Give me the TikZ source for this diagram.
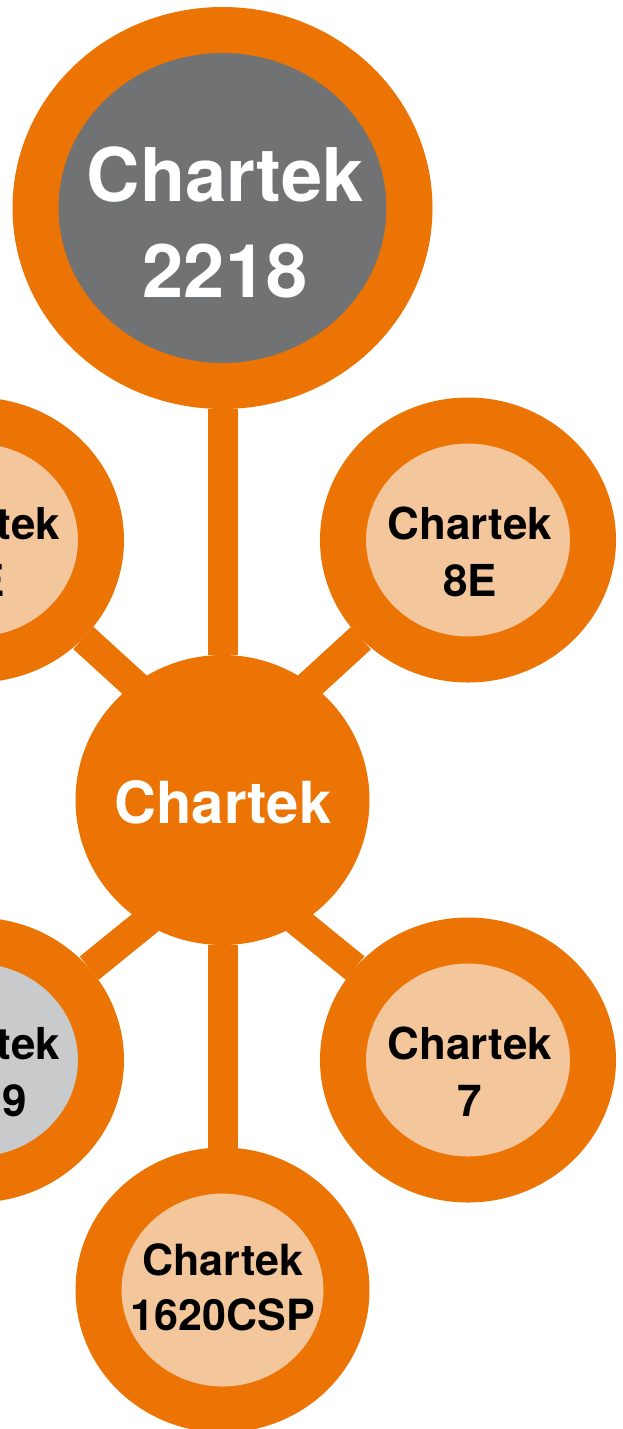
\documentclass[tikz,border=0pt]{standalone}
\usepackage{fontspec}
\setmainfont{TeX Gyre Heros}
\usetikzlibrary{shapes.geometric,backgrounds}
\definecolor{chorange}{RGB}{235,116,5}
\definecolor{chdark}{RGB}{113,114,116}
\definecolor{chpeach}{RGB}{244,198,155}
\definecolor{chlight}{RGB}{201,202,204}
\begin{document}
\begin{tikzpicture}[x=1pt,y=-1pt,
    ring/.style={ellipse,draw=chorange,line width=46pt,inner sep=0pt},
    sat/.style={ring,minimum width=250pt,minimum height=239pt,fill=chpeach},
    link/.style={draw=chorange,line width=30pt},
    lbl/.style={align=center,inner sep=0pt,font=\bfseries\fontsize{44}{57}\selectfont}]
  \useasboundingbox (0,0) rectangle (623,1429);
  % the rings
  \node[ring,minimum width=374pt,minimum height=356pt,fill=chdark] (top) at (222.5,208) {};
  \node[ellipse,fill=chorange,minimum width=294pt,minimum height=290pt] (hub) at (222.5,800) {};
  \node[sat] (r1) at (468,540) {};
  \node[sat] (r2) at (468,1060) {};
  \node[sat] (l1) at (-24,540) {};
  \node[sat,fill=chlight] (l2) at (-24,1060) {};
  \node[sat,minimum width=248pt,minimum height=239pt] (bot) at (222.5,1290) {};
  \coordinate (hubup) at (222.5,765);
  \coordinate (hubdn) at (222.5,860);
  % spokes behind
  \begin{scope}[on background layer]
    \draw[link] (top) -- (hub);
    \draw[link] (hub) -- (bot);
    \draw[link] (hubup) -- (r1);
    \draw[link] (hubup) -- (l1);
    \draw[link] (hubdn) -- (r2);
    \draw[link] (hubdn) -- (l2);
  \end{scope}
  % names
  \node[lbl,text=white,font=\bfseries\fontsize{74}{96}\selectfont] (topname) at (225,222) {Chartek\\2218};
  \node[lbl,text=white,font=\bfseries\fontsize{58}{70}\selectfont] (hubname) at (223,802.5) {Chartek};
  \node[lbl] (r1name) at (470,551.5) {Chartek\\8E};
  \node[lbl] (r2name) at (470,1071.5) {Chartek\\7};
  \node[lbl] (l1name) at (-22,551.5) {Chartek\\4E};
  \node[lbl] (l2name) at (-22,1071.5) {Chartek\\1709};
  \node[lbl,font=\bfseries\fontsize{43}{55}\selectfont] (botname) at (223,1287.5) {Chartek\\1620CSP};
\end{tikzpicture}
\end{document}
